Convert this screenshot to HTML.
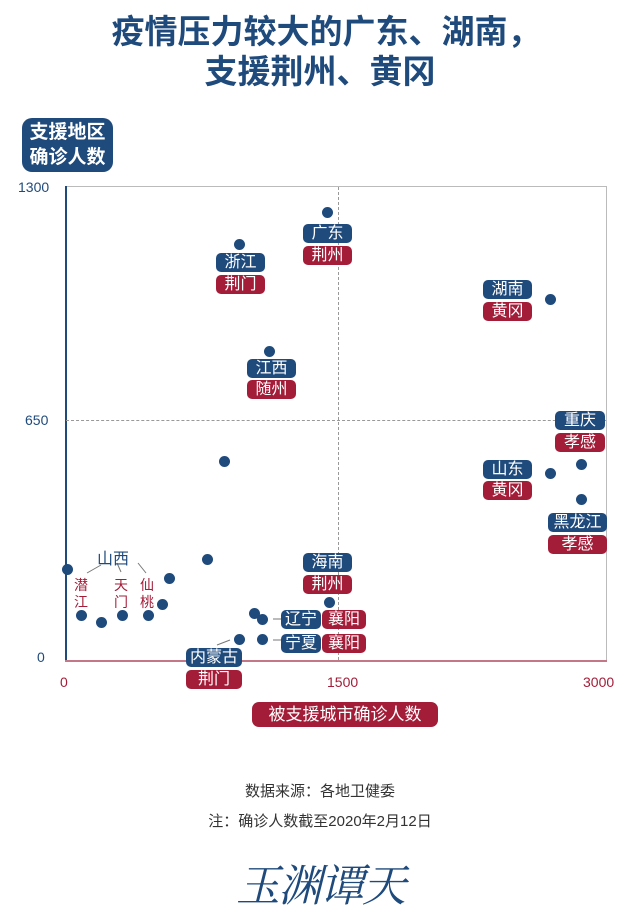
<!DOCTYPE html>
<html><head><meta charset="utf-8"><style>
body{margin:0;width:640px;height:919px;background:#fff;position:relative;overflow:hidden;font-family:"Liberation Sans","Noto Sans CJK SC",sans-serif}
.a{position:absolute}
.t{position:absolute;left:0;width:640px;text-align:center;color:#1f4a7c;font-weight:bold;font-size:33px;line-height:40px}
.d{position:absolute;width:11px;height:11px;border-radius:50%;background:#1f4a7c;margin:-5.5px 0 0 -5.5px}
.p{position:absolute;color:#fff;font-size:16px;line-height:19px;height:19px;text-align:center;border-radius:5px}
.b{background:#1f4a7c}.r{background:#a31d39}
.tk{position:absolute;font-size:14px}
.v{position:absolute;color:#a31d39;font-size:14px;line-height:17px;width:16px}
</style></head><body>
<div class="t" style="top:12px;padding-left:12px;box-sizing:border-box">疫情压力较大的广东、湖南，</div>
<div class="t" style="top:52px">支援荆州、黄冈</div>

<div class="a b" style="left:22px;top:118px;width:91px;height:54px;border-radius:10px;color:#fff;font-weight:bold;font-size:19px;line-height:25px;text-align:center;padding-top:2px;box-sizing:border-box">支援地区<br>确诊人数</div>

<div class="a" style="left:65px;top:186px;width:542px;height:475px;border-top:1px solid #bbb;border-right:1px solid #bbb;box-sizing:border-box"></div>
<div class="a" style="left:65px;top:186px;width:1.5px;height:475px;background:#1f4a7c"></div>
<div class="a" style="left:65px;top:660px;width:542px;height:1.5px;background:#c47787"></div>
<div class="a" style="left:66px;top:420px;width:540px;border-top:1px dashed #999"></div>
<div class="a" style="left:338px;top:187px;height:473px;border-left:1px dashed #999"></div>

<div class="tk" style="left:18px;top:179px;color:#1f4a7c">1300</div>
<div class="tk" style="left:25px;top:412px;color:#1f4a7c">650</div>
<div class="tk" style="left:37px;top:649px;color:#1f4a7c">0</div>
<div class="tk" style="left:60px;top:674px;color:#a31d39">0</div>
<div class="tk" style="left:327px;top:674px;color:#a31d39">1500</div>
<div class="tk" style="left:583px;top:674px;color:#a31d39">3000</div>

<div class="d" style="left:67px;top:569px"></div>
<div class="d" style="left:81px;top:615px"></div>
<div class="d" style="left:101px;top:622px"></div>
<div class="d" style="left:122px;top:615px"></div>
<div class="d" style="left:148px;top:615px"></div>
<div class="d" style="left:162px;top:604px"></div>
<div class="d" style="left:169px;top:578px"></div>
<div class="d" style="left:207px;top:559px"></div>
<div class="d" style="left:224px;top:461px"></div>
<div class="d" style="left:239px;top:244px"></div>
<div class="d" style="left:269px;top:351px"></div>
<div class="d" style="left:327px;top:212px"></div>
<div class="d" style="left:254px;top:613px"></div>
<div class="d" style="left:262px;top:619px"></div>
<div class="d" style="left:239px;top:639px"></div>
<div class="d" style="left:262px;top:639px"></div>
<div class="d" style="left:329px;top:602px"></div>
<div class="d" style="left:550px;top:299px"></div>
<div class="d" style="left:550px;top:473px"></div>
<div class="d" style="left:581px;top:464px"></div>
<div class="d" style="left:581px;top:499px"></div>

<div class="p b" style="left:303px;top:224px;width:49px">广东</div>
<div class="p r" style="left:303px;top:246px;width:49px">荆州</div>
<div class="p b" style="left:216px;top:253px;width:49px">浙江</div>
<div class="p r" style="left:216px;top:275px;width:49px">荆门</div>
<div class="p b" style="left:247px;top:359px;width:49px">江西</div>
<div class="p r" style="left:247px;top:380px;width:49px">随州</div>
<div class="p b" style="left:483px;top:280px;width:49px">湖南</div>
<div class="p r" style="left:483px;top:302px;width:49px">黄冈</div>
<div class="p b" style="left:555px;top:411px;width:50px">重庆</div>
<div class="p r" style="left:555px;top:433px;width:50px">孝感</div>
<div class="p b" style="left:483px;top:460px;width:49px">山东</div>
<div class="p r" style="left:483px;top:481px;width:49px">黄冈</div>
<div class="p b" style="left:548px;top:513px;width:59px">黑龙江</div>
<div class="p r" style="left:548px;top:535px;width:59px">孝感</div>
<div class="p b" style="left:303px;top:553px;width:49px">海南</div>
<div class="p r" style="left:303px;top:575px;width:49px">荆州</div>
<div class="p b" style="left:281px;top:610px;width:40px">辽宁</div>
<div class="p r" style="left:322px;top:610px;width:44px">襄阳</div>
<div class="p b" style="left:281px;top:634px;width:40px">宁夏</div>
<div class="p r" style="left:322px;top:634px;width:44px">襄阳</div>
<div class="p b" style="left:186px;top:648px;width:56px">内蒙古</div>
<div class="p r" style="left:186px;top:670px;width:56px">荆门</div>

<svg class="a" style="left:0;top:0" width="640" height="919">
<g stroke="#777" stroke-width="1">
<line x1="273" y1="619" x2="281" y2="619"/><line x1="273" y1="640" x2="281" y2="640"/>
<line x1="217" y1="645" x2="230" y2="640"/>
<line x1="87" y1="573" x2="101" y2="565"/><line x1="117" y1="563" x2="121" y2="572"/><line x1="138" y1="563" x2="146" y2="573"/>
</g></svg>
<div class="a" style="left:97px;top:545px;color:#1f4a7c;font-size:16px">山西</div>
<div class="v" style="left:74px;top:577px">潜江</div>
<div class="v" style="left:114px;top:577px">天门</div>
<div class="v" style="left:140px;top:577px">仙桃</div>

<div class="p r" style="left:252px;top:702px;width:186px;height:25px;line-height:25px;font-size:17px;border-radius:7px">被支援城市确诊人数</div>

<div class="a" style="left:0;width:640px;top:780px;text-align:center;font-size:15px;color:#333">数据来源：各地卫健委</div>
<div class="a" style="left:0;width:640px;top:810px;text-align:center;font-size:15px;color:#333">注：确诊人数截至2020年2月12日</div>
<div class="a" style="left:0;width:640px;top:850px;text-align:center;font-size:44px;color:#1f4a7c;font-family:'Noto Serif CJK SC',serif;font-style:italic;letter-spacing:-2px">玉渊谭天</div>
</body></html>
